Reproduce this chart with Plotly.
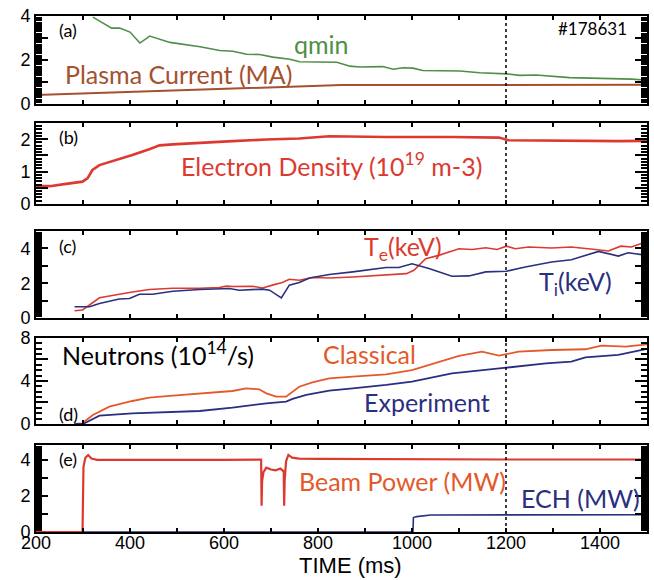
import plotly.graph_objects as go
from plotly.subplots import make_subplots

# ---- time traces (ms) ----
qmin_t = [321, 361, 378, 400, 421, 442, 485, 549, 591, 619, 648, 676, 704, 740, 761, 804, 840, 868, 889,
          938, 960, 981, 1002, 1023, 1102, 1144, 1201, 1229, 1264, 1335, 1405, 1468, 1500]
qmin_v = [3.95, 3.45, 3.45, 3.27, 2.77, 3.09, 2.8, 2.6, 2.43, 2.4, 2.26, 2.25, 2.13, 2.03, 1.92, 1.9, 1.9, 1.72, 1.68,
          1.7, 1.58, 1.65, 1.63, 1.52, 1.5, 1.42, 1.37, 1.3, 1.32, 1.2, 1.17, 1.13, 1.08]

ip_t = [200, 300, 400, 500, 600, 700, 800, 850, 1000, 1200, 1500]
ip_v = [0.41, 0.48, 0.56, 0.63, 0.70, 0.78, 0.85, 0.86, 0.86, 0.86, 0.87]

ne_t = [200, 229, 264, 299, 310, 320, 335, 371, 405, 441, 463, 491, 548, 618, 690, 760, 824,
        945, 1085, 1185, 1205, 1298, 1440, 1500]
ne_v = [0.55, 0.55, 0.62, 0.69, 0.8, 1.05, 1.2, 1.35, 1.51, 1.69, 1.81, 1.84, 1.89, 1.94, 1.99, 2.02, 2.09,
        2.07, 2.07, 2.05, 1.97, 1.95, 1.94, 1.95]

te_t = [282, 299, 335, 356, 405, 441, 491, 548, 590, 605, 618, 660, 682, 703, 724, 739, 760, 788, 824, 874,
        945, 988, 1004, 1029, 1057, 1100, 1128, 1157, 1181, 1201, 1220, 1248, 1297, 1339, 1390, 1418, 1444,
        1467, 1500]
te_v = [0.42, 0.46, 1.16, 1.27, 1.5, 1.64, 1.71, 1.71, 1.75, 1.83, 1.81, 1.83, 1.73, 1.89, 2.04, 2.23, 2.17,
        2.33, 2.3, 2.36, 2.46, 2.55, 2.74, 3.41, 3.6, 3.98, 3.94, 4.04, 3.94, 4.13, 3.98, 4.08, 4.02, 4.08,
        3.94, 3.85, 4.13, 4.08, 4.4]

ti_t = [282, 314, 335, 356, 377, 399, 420, 448, 491, 548, 611, 633, 682, 697, 722, 739, 760, 782, 824, 874,
        945, 972, 1000, 1036, 1085, 1121, 1157, 1201, 1241, 1297, 1339, 1397, 1439, 1460, 1500]
ti_v = [0.65, 0.65, 0.84, 0.97, 1.09, 1.12, 1.37, 1.37, 1.54, 1.64, 1.7, 1.6, 1.66, 1.6, 1.16, 1.89, 2.04,
        2.3, 2.5, 2.65, 2.9, 2.9, 3.12, 2.84, 2.4, 2.42, 2.65, 2.69, 2.93, 3.22, 3.35, 3.83, 3.56, 3.75, 3.6]

cls_t = [282, 298, 321, 356, 405, 441, 491, 548, 618, 647, 675, 690, 711, 732, 760, 788, 824, 874, 945,
         1000, 1050, 1100, 1149, 1185, 1227, 1297, 1369, 1403, 1454, 1500]
cls_v = [0, 0.05, 0.84, 1.61, 2.14, 2.45, 2.64, 2.85, 3.07, 3.32, 3.23, 2.85, 2.54, 2.54, 3.47, 3.88, 4.25,
         4.4, 4.62, 5.02, 5.64, 6.33, 6.73, 6.36, 6.73, 6.88, 6.95, 7.29, 7.2, 7.4]

exp_t = [282, 300, 321, 335, 405, 491, 548, 618, 690, 732, 746, 775, 824, 874, 945, 1000, 1085, 1201, 1285,
         1339, 1369, 1439, 1500]
exp_v = [0, 0, 0.47, 0.78, 0.99, 1.09, 1.21, 1.52, 1.92, 2.08, 2.33, 2.7, 3.1, 3.32, 3.63, 3.94, 4.71, 5.24,
         5.64, 5.8, 6.2, 6.42, 6.98]

pnb_t = [200, 299, 301, 305, 311, 318, 330, 400, 500, 600, 679, 680, 681, 684, 690, 700, 710, 720, 727, 728,
         729, 732, 737, 745, 760, 800, 1000, 1200, 1500]
pnb_v = [0, 0, 3.6, 4.1, 4.25, 4.05, 3.98, 3.97, 3.98, 3.98, 4.0, 1.45, 2.8, 3.3, 3.55, 3.45, 3.4, 3.5, 3.35,
         1.45, 2.8, 3.9, 4.25, 4.1, 4.05, 4.03, 4.0, 4.0, 4.0]

ech_t = [200, 1002, 1003, 1010, 1040, 1100, 1500]
ech_v = [0, 0, 0.8, 0.85, 0.94, 0.94, 0.95]

# ---- axis tick definitions per panel ----
y_ranges = [[0, 4], [0, 2.5], [0, 5], [0, 8], [0, 4.8]]
y_dtick = [1, 0.5, 1, 2, 1]
y_hidden = [["1", "3"], ["0.5", "1.5", "2.5"], ["1", "3", "5"], ["2", "6"], ["1", "3"]]
y_minor = [0.1, 0.1, 0.1, 0.5, 0.1]
domains = [[0.8295, 1.0], [0.6357, 0.7926], [0.4147, 0.5833], [0.2093, 0.3760], [0.0, 0.1686]]

NAVY = "#2b2f80"
RED = "#dc3a30"
ORANGE = "#e35a2a"
GREEN = "#4e8f46"
BROWN = "#a5502e"

fig = make_subplots(rows=5, cols=1, shared_xaxes=False, vertical_spacing=0.04)


def add(t, v, row, color, width):
    fig.add_trace(go.Scatter(x=t, y=v, mode="lines", line=dict(color=color, width=width),
                             showlegend=False), row=row, col=1)


add(ip_t, ip_v, 1, BROWN, 2)
add(qmin_t, qmin_v, 1, GREEN, 1.6)
add(ne_t, ne_v, 2, RED, 2.6)
add(te_t, te_v, 3, RED, 1.6)
add(ti_t, ti_v, 3, NAVY, 1.6)
add(cls_t, cls_v, 4, ORANGE, 1.8)
add(exp_t, exp_v, 4, NAVY, 1.8)
add(ech_t, ech_v, 5, NAVY, 1.6)
add(pnb_t, pnb_v, 5, RED, 2.2)

fig.update_layout(
    width=654, height=580,
    margin=dict(l=36, r=5, t=16, b=48),
    plot_bgcolor="white",
    font=dict(family="Liberation Sans, Arial, sans-serif", size=18, color="black"),
    showlegend=False,
)

for i in range(5):
    row = i + 1
    fig.update_xaxes(
        range=[200, 1500],
        showline=True, linewidth=2, linecolor="black", mirror="allticks",
        ticks="inside", ticklen=4, tickwidth=2, tickcolor="black",
        tickmode="linear", tick0=200, dtick=200,
        minor=dict(dtick=100, ticklen=4, ticks="inside", tickcolor="black"),
        showticklabels=(i == 4), ticklabelstandoff=-7,
        row=row, col=1,
    )
    fig.update_yaxes(
        range=y_ranges[i], domain=domains[i],
        showline=True, linewidth=2, linecolor="black", mirror="allticks",
        ticks="inside", ticklen=12, tickwidth=2, tickcolor="black",
        tickmode="linear", tick0=0, dtick=y_dtick[i],
        labelalias={h: " " for h in y_hidden[i]},
        minor=dict(dtick=y_minor[i], ticklen=6, ticks="inside", tickcolor="black"),
        row=row, col=1,
    )

# dotted marker at t = 1200 ms in every panel
for i in range(5):
    sfx = "" if i == 0 else str(i + 1)
    fig.add_shape(type="line", x0=1200, x1=1200, y0=0, y1=1,
                  xref="x" + sfx, yref=f"y{sfx} domain",
                  line=dict(color="black", width=1.5, dash="dot"))

LBL = "Lato, Open Sans, sans-serif"


def note(text, x, y, row, color, size=25, anchor="left"):
    sfx = "" if row == 1 else str(row)
    fig.add_annotation(text=text, x=x, y=y, xref="x" + sfx, yref="y" + sfx,
                       xanchor=anchor, yanchor="middle", showarrow=False,
                       font=dict(family=LBL, size=size, color=color))


note("(a)", 245, 3.36, 1, "black", 18)
note("qmin", 745, 2.73, 1, GREEN)
note("Plasma Current (MA)", 257, 1.36, 1, BROWN)
note("#178631", 1307, 3.41, 1, "black", 17)
note("(b)", 245, 2.06, 2, "black", 18)
note("Electron Density (10<sup>19</sup> m-3)", 505, 1.23, 2, RED)
note("(c)", 245, 4.13, 3, "black", 18)
note("T<sub>e</sub>(keV)", 893, 4.03, 3, RED)
note("T<sub>i</sub>(keV)", 1265, 2.03, 3, NAVY)
note("Neutrons (10<sup>14</sup>/s)", 251, 6.6, 4, "black")
note("(d)", 245, 0.93, 4, "black", 18)
note("Classical", 806, 6.47, 4, ORANGE)
note("Experiment", 894, 2.09, 4, NAVY)
note("(e)", 245, 4.03, 5, "black", 18)
note("Beam Power (MW)", 756, 2.79, 5, ORANGE)
note("ECH (MW)", 1227, 1.85, 5, NAVY)

fig.add_annotation(text="TIME (ms)", x=0.515, y=-0.064, xref="paper", yref="paper",
                   xanchor="center", yanchor="middle", showarrow=False,
                   font=dict(family="Liberation Sans, Arial, sans-serif", size=22, color="black"))

fig.write_html("out.html")
